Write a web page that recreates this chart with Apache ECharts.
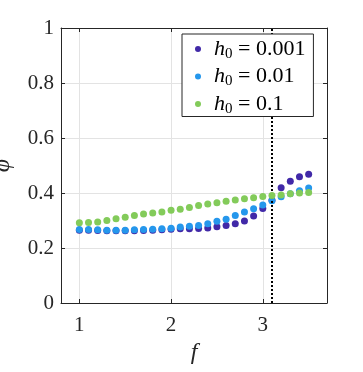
<!DOCTYPE html>
<html>
<head>
<meta charset="utf-8">
<script src="https://cdn.jsdelivr.net/npm/echarts@6/dist/echarts.min.js"></script>
<style>
  html, body { margin: 0; padding: 0; background: #fff; }
  #chart { width: 363px; height: 372px; }
</style>
</head>
<body>
<div id="chart"></div>
<script>
// f values (x), 1.0 .. 3.5 step 0.1
const fValues = [1.0, 1.1, 1.2, 1.3, 1.4, 1.5, 1.6, 1.7, 1.8, 1.9, 2.0, 2.1, 2.2,
                 2.3, 2.4, 2.5, 2.6, 2.7, 2.8, 2.9, 3.0, 3.1, 3.2, 3.3, 3.4, 3.5];

// phi for each h0
const phiH0001 = [0.265, 0.265, 0.264, 0.263, 0.263, 0.263, 0.263, 0.264, 0.265, 0.266,
                  0.268, 0.270, 0.270, 0.271, 0.273, 0.277, 0.282, 0.288, 0.298, 0.316,
                  0.344, 0.374, 0.419, 0.443, 0.459, 0.468];
const phiH001  = [0.267, 0.267, 0.266, 0.265, 0.265, 0.265, 0.266, 0.267, 0.268, 0.270,
                  0.272, 0.276, 0.279, 0.282, 0.288, 0.297, 0.305, 0.318, 0.331, 0.343,
                  0.356, 0.372, 0.386, 0.397, 0.408, 0.418];
const phiH01   = [0.292, 0.293, 0.295, 0.300, 0.306, 0.312, 0.318, 0.324, 0.327, 0.331,
                  0.337, 0.341, 0.347, 0.355, 0.360, 0.365, 0.370, 0.375, 0.379, 0.383,
                  0.387, 0.391, 0.393, 0.397, 0.400, 0.402];

const seriesNames = ['0.001', '0.01', '0.1'];
const seriesColors = ['#4129a8', '#2597ec', '#83cb5a'];
const xTicks = [1, 2, 3];
const fCritical = 3.1;

const chart = echarts.init(document.getElementById('chart'));
const serif = 'Liberation Serif';
const axisCol = '#262626';

function pairs(ys) {
  return fValues.map((x, i) => [x, ys[i]]);
}

const allData = [phiH0001, phiH001, phiH01];
const series = allData.map((ys, k) => ({
  name: seriesNames[k],
  type: 'scatter',
  symbol: 'circle',
  symbolSize: 7,
  itemStyle: { color: seriesColors[k], opacity: 1 },
  data: pairs(ys),
  z: 3 + k
}));

// dotted vertical line at the critical f
series[0].markLine = {
  silent: true,
  symbol: 'none',
  label: { show: false },
  lineStyle: { color: '#000', type: [2, 2], width: 2 },
  data: [{ xAxis: fCritical }]
};

const baseX = {
  type: 'value',
  min: 0.8,
  max: 3.7,
  axisLine: { show: true, onZero: false, lineStyle: { color: axisCol, width: 1 } },
  axisTick: { show: true, inside: true, length: 4, customValues: xTicks, lineStyle: { color: axisCol } },
  splitLine: { show: false }
};
const baseY = {
  type: 'value',
  min: 0,
  max: 1,
  interval: 0.2,
  axisLine: { show: true, onZero: false, lineStyle: { color: axisCol, width: 1 } },
  axisTick: { show: true, inside: true, length: 4, lineStyle: { color: axisCol } },
  splitLine: { show: false }
};

chart.setOption({
  backgroundColor: '#fff',
  animation: false,
  grid: { left: 61, right: 36, top: 28, bottom: 69, outerBoundsMode: 'none', containLabel: false },
  legend: {
    z: 20,
    left: 182,
    top: 34,
    orient: 'vertical',
    backgroundColor: '#fff',
    borderColor: axisCol,
    borderWidth: 1,
    padding: [4, 8, 0, 13],
    itemGap: 4,
    itemWidth: 6,
    itemHeight: 6,
    icon: 'circle',
    data: seriesNames,
    formatter: n => '{i|h}{s|0}{n| = ' + n + '}',
    textStyle: {
      color: '#000',
      padding: [0, 0, 0, 8],
      rich: {
        i: { fontFamily: serif, fontStyle: 'italic', fontSize: 22, height: 22 },
        s: { fontFamily: serif, fontSize: 15, verticalAlign: 'bottom', padding: [10, 0, 0, 0] },
        n: { fontFamily: serif, fontSize: 22, height: 22 }
      }
    }
  },
  xAxis: [
    Object.assign({}, baseX, {
      position: 'bottom',
      name: 'f',
      nameLocation: 'middle',
      nameGap: 38,
      nameTextStyle: { fontFamily: serif, fontStyle: 'italic', fontSize: 24, color: axisCol },
      axisLabel: { show: true, customValues: xTicks, margin: 12, fontFamily: serif, fontSize: 21, color: axisCol },
      splitLine: { show: true, lineStyle: { color: '#e3e3e3', width: 1 } }
    }),
    Object.assign({}, baseX, { position: 'top', axisLabel: { show: false } })
  ],
  yAxis: [
    Object.assign({}, baseY, {
      position: 'left',
      name: 'φ',
      nameLocation: 'middle',
      nameRotate: 90,
      nameGap: 46,
      nameTextStyle: { fontFamily: serif, fontStyle: 'italic', fontSize: 24, color: axisCol },
      axisLabel: {
        show: true, margin: 7, fontFamily: serif, fontSize: 21, color: axisCol,
        formatter: v => String(Math.round(v * 10) / 10)
      },
      splitLine: { show: true, lineStyle: { color: '#e3e3e3', width: 1 } }
    }),
    Object.assign({}, baseY, { position: 'right', axisLabel: { show: false } })
  ],
  series: series
});
</script>
</body>
</html>
